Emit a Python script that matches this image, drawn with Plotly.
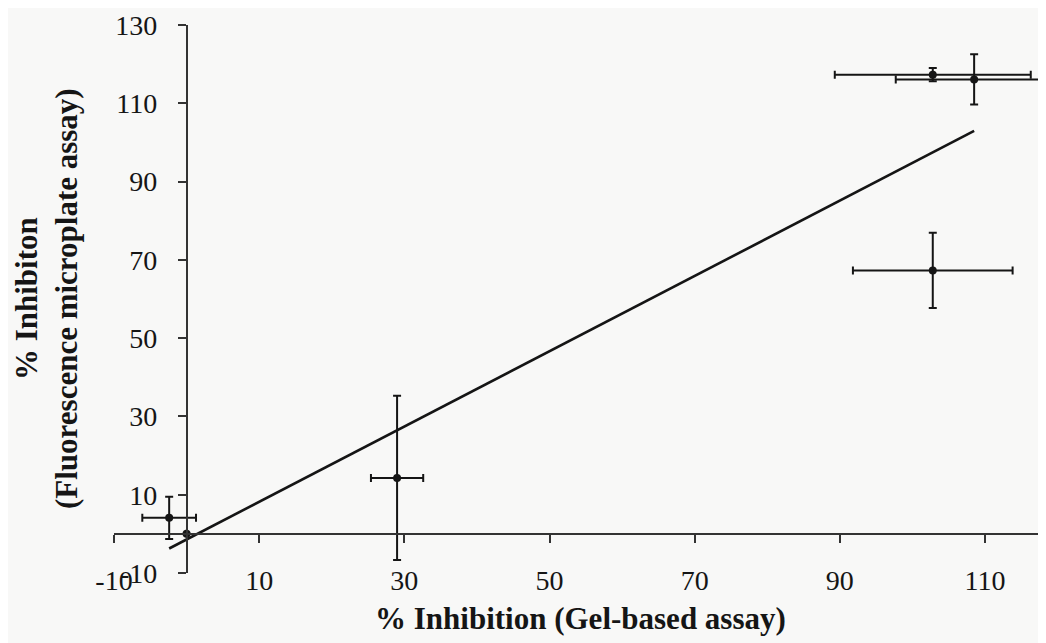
import numpy as np
import plotly.graph_objects as go

# Data
gel_x = [-2.4, 0.0, 29.0, 102.8, 108.5, 102.8]
fluor_y = [4.1, 0.0, 14.3, 117.3, 116.1, 67.3]
x_err = [3.7, 0.0, 3.6, 13.5, 10.8, 11.0]
y_err = [5.4, 0.0, 21.0, 1.7, 6.4, 9.6]

x_ticks = [-10, 10, 30, 50, 70, 90, 110]
y_ticks = [-10, 10, 30, 50, 70, 90, 110, 130]

x_range = [-10, 118.4]
y_range = [-10, 130]

# linear trendline over the data range
slope, intercept = np.polyfit(gel_x, fluor_y, 1)
trend_x = [min(gel_x), max(gel_x)]
trend_y = [slope * v + intercept for v in trend_x]

INK = "#151515"
FONT = "Liberation Serif"

fig = go.Figure()

fig.add_trace(go.Scatter(
    x=trend_x, y=trend_y, mode="lines",
    line=dict(color=INK, width=2.6),
    hoverinfo="skip", showlegend=False,
))

fig.add_trace(go.Scatter(
    x=gel_x, y=fluor_y, mode="markers",
    marker=dict(color=INK, size=8),
    error_x=dict(type="data", array=x_err, color=INK, thickness=2, width=4),
    error_y=dict(type="data", array=y_err, color=INK, thickness=2, width=4),
    showlegend=False,
))

# invisible trace that carries the axis line drawn at y=0
fig.add_trace(go.Scatter(
    x=gel_x, y=fluor_y, xaxis="x2", yaxis="y", mode="markers",
    marker=dict(opacity=0), hoverinfo="skip", showlegend=False,
))

x0_frac = (0 - x_range[0]) / (x_range[1] - x_range[0])
y0_frac = (0 - y_range[0]) / (y_range[1] - y_range[0])

W, H = 1038, 635
T, B = 17, 70
plot_h = H - T - B

fig.update_layout(
    width=W, height=H,
    margin=dict(l=106, r=0, t=T, b=B),
    paper_bgcolor="#f8f8f7",
    plot_bgcolor="#f8f8f7",
    font=dict(family=FONT, color=INK),
    xaxis=dict(
        range=x_range, tickvals=x_ticks, ticktext=[str(v) for v in x_ticks],
        showline=False, showgrid=False, zeroline=False, ticks="",
        tickfont=dict(size=28, family=FONT, color=INK),
        anchor="free", position=12 / plot_h, side="bottom",
    ),
    xaxis2=dict(
        range=x_range, matches="x", overlaying="x", anchor="free", position=y0_frac,
        tickvals=x_ticks, showticklabels=False, ticks="outside", ticklen=8,
        tickwidth=1.5, tickcolor="#333", showline=True, linecolor="#333", linewidth=1.5,
        showgrid=False, zeroline=False,
    ),
    yaxis=dict(
        range=y_range, tickvals=y_ticks, ticktext=[str(v) for v in y_ticks],
        anchor="free", position=x0_frac,
        ticks="outside", ticklen=8, tickwidth=1.5, tickcolor="#333",
        showline=True, linecolor="#333", linewidth=1.5,
        showgrid=False, zeroline=False, ticklabelstandoff=15,
        tickfont=dict(size=28, family=FONT, color=INK),
    ),
    annotations=[
        dict(text="<b>% Inhibition (Gel-based assay)</b>", xref="paper", yref="paper",
             x=0.5, y=0, yshift=-45, xanchor="center", yanchor="middle",
             showarrow=False, font=dict(size=31, family=FONT, color=INK)),
        dict(text="<b>% Inhibiton<br>(Fluorescence microplate assay)</b>", xref="paper", yref="paper",
             x=0, xshift=-68, y=0.5, xanchor="center", yanchor="middle", textangle=-90,
             borderpad=0, showarrow=False, font=dict(size=31, family=FONT, color=INK)),
    ],
)

fig.write_html("out.html")
